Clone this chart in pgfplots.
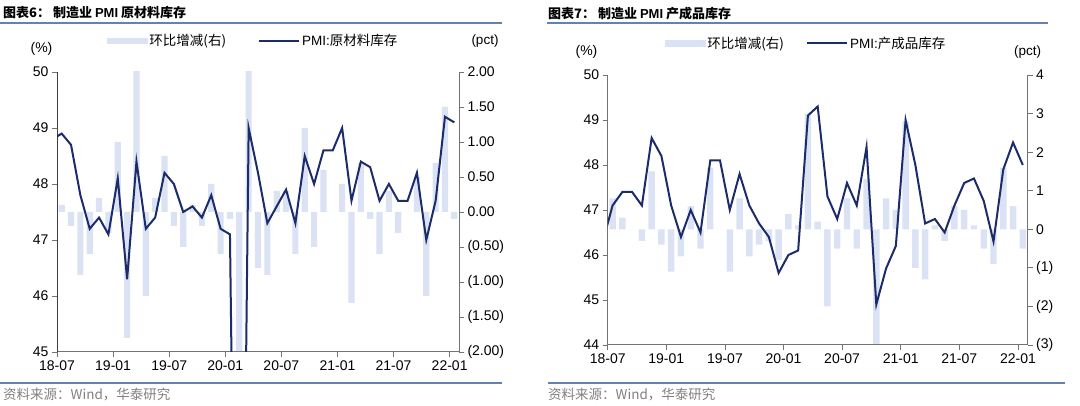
\documentclass[border=0pt]{standalone}
\usepackage{pgfplots}
\usepackage{pgfplotstable}
\pgfplotsset{compat=1.18}
\usepackage{fontspec}
\setmainfont{Liberation Sans}
\newfontfamily\cjk{Noto Sans CJK SC}

\definecolor{barcol}{RGB}{218,226,243}
\definecolor{linecol}{RGB}{28,43,106}
\definecolor{rulecol}{RGB}{100,130,176}

% PMI 原材料库存, month index + 0.5 (0 = 2018-07)
\pgfplotstableread{
x v
-0.5 48.8
0.5 48.9
1.5 48.7
2.5 47.8
3.5 47.2
4.5 47.4
5.5 47.1
6.5 48.1
7.5 46.3
8.5 48.4
9.5 47.2
10.5 47.4
11.5 48.2
12.5 48.0
13.5 47.5
14.5 47.6
15.5 47.4
16.5 47.8
17.5 47.2
18.5 47.1
19.5 33.9
20.5 49.0
21.5 48.2
22.5 47.3
23.5 47.6
24.5 47.9
25.5 47.3
26.5 48.5
27.5 48.0
28.5 48.6
29.5 48.6
30.5 49.0
31.5 47.7
32.5 48.4
33.5 48.3
34.5 47.7
35.5 48.0
36.5 47.7
37.5 47.7
38.5 48.2
39.5 47.0
40.5 47.7
41.5 49.2
42.5 49.1
}\rawline

\pgfplotstableread{
x d
0.5 0.1
1.5 -0.2
2.5 -0.9
3.5 -0.6
4.5 0.2
5.5 -0.3
6.5 1.0
7.5 -1.8
8.5 2.1
9.5 -1.2
10.5 0.2
11.5 0.8
12.5 -0.2
13.5 -0.5
14.5 0.1
15.5 -0.2
16.5 0.4
17.5 -0.6
18.5 -0.1
19.5 -13.2
20.5 15.1
21.5 -0.8
22.5 -0.9
23.5 0.3
24.5 0.3
25.5 -0.6
26.5 1.2
27.5 -0.5
28.5 0.6
29.5 0.0
30.5 0.4
31.5 -1.3
32.5 0.7
33.5 -0.1
34.5 -0.6
35.5 0.3
36.5 -0.3
37.5 0.0
38.5 0.5
39.5 -1.2
40.5 0.7
41.5 1.5
42.5 -0.1
}\rawbar

% PMI 产成品库存
\pgfplotstableread{
x v
-0.5 46.3
0.5 47.1
1.5 47.4
2.5 47.4
3.5 47.1
4.5 48.6
5.5 48.2
6.5 47.1
7.5 46.4
8.5 47.0
9.5 46.5
10.5 48.1
11.5 48.1
12.5 47.0
13.5 47.8
14.5 47.1
15.5 46.7
16.5 46.4
17.5 45.6
18.5 46.0
19.5 46.1
20.5 49.1
21.5 49.3
22.5 47.3
23.5 46.8
24.5 47.6
25.5 47.1
26.5 48.4
27.5 44.9
28.5 45.7
29.5 46.2
30.5 49.0
31.5 48.0
32.5 46.7
33.5 46.8
34.5 46.5
35.5 47.1
36.5 47.6
37.5 47.7
38.5 47.2
39.5 46.3
40.5 47.9
41.5 48.5
42.5 48.0
}\prodline

\pgfplotstableread{
x d
0.5 0.8
1.5 0.3
2.5 0.0
3.5 -0.3
4.5 1.5
5.5 -0.4
6.5 -1.1
7.5 -0.7
8.5 0.6
9.5 -0.5
10.5 1.6
11.5 0.0
12.5 -1.1
13.5 0.8
14.5 -0.7
15.5 -0.4
16.5 -0.3
17.5 -0.8
18.5 0.4
19.5 0.1
20.5 3.0
21.5 0.2
22.5 -2.0
23.5 -0.5
24.5 0.8
25.5 -0.5
26.5 1.3
27.5 -3.5
28.5 0.8
29.5 0.5
30.5 2.8
31.5 -1.0
32.5 -1.3
33.5 0.1
34.5 -0.3
35.5 0.6
36.5 0.5
37.5 0.1
38.5 -0.5
39.5 -0.9
40.5 1.6
41.5 0.6
42.5 -0.5
}\prodbar

\pgfplotsset{
  panel/.style={
    scale only axis,
    anchor=south west,
    xmin=0, xmax=43,
    tick align=outside,
    major tick length=5pt,
    axis line style={-, line width=1pt, black!55},
    tick style={line width=0.8pt, black!55},
    ticklabel style={font=\fontsize{14}{16}\selectfont},
  },
  bars/.style={ybar, bar width=0.66, bar shift=0pt, fill=barcol, draw=none},
  pmiline/.style={linecol, line width=2pt},
  months/.style={
    xtick={0,6,12,18,24,30,36,42},
    xticklabels={18-07,19-01,19-07,20-01,20-07,21-01,21-07,22-01},
  },
  legbox/.style={
    legend columns=2,
    legend style={draw=none, fill=none, inner sep=0pt, anchor=west,
      font=\fontsize{13.5}{15}\selectfont,
      /tikz/every even column/.append style={column sep=#1}},
  },
}

\begin{document}
\begin{tikzpicture}
\useasboundingbox (0pt,0pt) rectangle (1080pt,406pt);

% ---------- 图表6 ----------
\begin{axis}[panel, at={(57pt,54pt)}, width=402pt, height=280pt,
  axis x line=none, axis y line*=right,
  ymin=-2, ymax=2,
  ytick={-2,-1.5,-1,-0.5,0,0.5,1,1.5,2},
  yticklabels={(2.00),(1.50),(1.00),(0.50),0.00,0.50,1.00,1.50,2.00}]
\addplot[bars] table[x=x,y=d] {\rawbar};
\end{axis}

\begin{axis}[panel, months, at={(57pt,54pt)}, width=402pt, height=280pt,
  axis x line*=bottom, axis y line*=left,
  y axis line style={black!75},
  ymin=45, ymax=50,
  ytick={45,46,47,48,49,50},
  yticklabels={45,46,47,48,49,50},
  legbox=30pt,
  legend style={at={(axis description cs:0.124,1.111)}}]
\addlegendimage{legend image code/.code={\fill[barcol] (0pt,-2.5pt) rectangle (40pt,2.5pt);}}
\addlegendentry{\cjk 环比增减(右)}
\addplot[pmiline, legend image code/.code={\draw[linecol, line width=2pt] (0pt,0pt) -- (40pt,0pt);}]
  table[x=x,y=v] {\rawline};
\addlegendentry{PMI:{\cjk 原材料库存}}
\end{axis}

% ---------- 图表7 ----------
\begin{axis}[panel, at={(607.7pt,61pt)}, width=420pt, height=270pt,
  axis x line=none, axis y line*=right,
  ymin=-3, ymax=4,
  ytick={-3,-2,-1,0,1,2,3,4},
  yticklabels={(3),(2),(1),0,1,2,3,4}]
\addplot[bars] table[x=x,y=d] {\prodbar};
\end{axis}

\begin{axis}[panel, months, at={(607.7pt,61pt)}, width=420pt, height=270pt,
  axis x line*=bottom, axis y line*=left,
  ymin=44, ymax=50,
  ytick={44,45,46,47,48,49,50},
  yticklabels={44,45,46,47,48,49,50},
  legbox=20pt,
  legend style={at={(axis description cs:0.136,1.117)}}]
\addlegendimage{legend image code/.code={\fill[barcol] (0pt,-3pt) rectangle (40pt,3pt);}}
\addlegendentry{\cjk 环比增减(右)}
\addplot[pmiline, legend image code/.code={\draw[linecol, line width=2pt] (0pt,0pt) -- (40pt,0pt);}]
  table[x=x,y=v] {\prodline};
\addlegendentry{PMI:{\cjk 产成品库存}}
\end{axis}

% titles, rules, units, sources
\begin{scope}[every node/.style={inner sep=0pt}]
\node[anchor=west, font=\fontsize{13}{15}\selectfont] at (3pt,393pt)
  {\cjk\bfseries 图表6：\ 制造业 {\rmfamily\bfseries PMI} 原材料库存};
\node[anchor=west, font=\fontsize{13}{15}\selectfont] at (548pt,392pt)
  {\cjk\bfseries 图表7：\ 制造业 {\rmfamily\bfseries PMI} 产成品库存};
\draw[rulecol, line width=2pt] (0pt,382.7pt) -- (502pt,382.7pt);
\draw[rulecol, line width=2pt] (547pt,382.7pt) -- (1048pt,382.7pt);
\draw[rulecol, line width=2pt] (0pt,23.3pt) -- (502pt,23.3pt);
\draw[rulecol, line width=2pt] (548pt,23.3pt) -- (1065pt,23.3pt);

\node[font=\fontsize{14}{16}\selectfont] at (41.5pt,357pt) {(\%)};
\node[font=\fontsize{13.5}{16}\selectfont] at (485pt,365pt) {(pct)};
\node[font=\fontsize{14}{16}\selectfont] at (586.5pt,354pt) {(\%)};
\node[font=\fontsize{13.5}{16}\selectfont] at (1027.5pt,354pt) {(pct)};

\node[anchor=west, text=black!50, font=\fontsize{13.5}{15}\selectfont] at (3pt,11pt)
  {\cjk 资料来源：Wind，华泰研究};
\node[anchor=west, text=black!50, font=\fontsize{13.5}{15}\selectfont] at (548pt,11pt)
  {\cjk 资料来源：Wind，华泰研究};
\end{scope}
\end{tikzpicture}
\end{document}
